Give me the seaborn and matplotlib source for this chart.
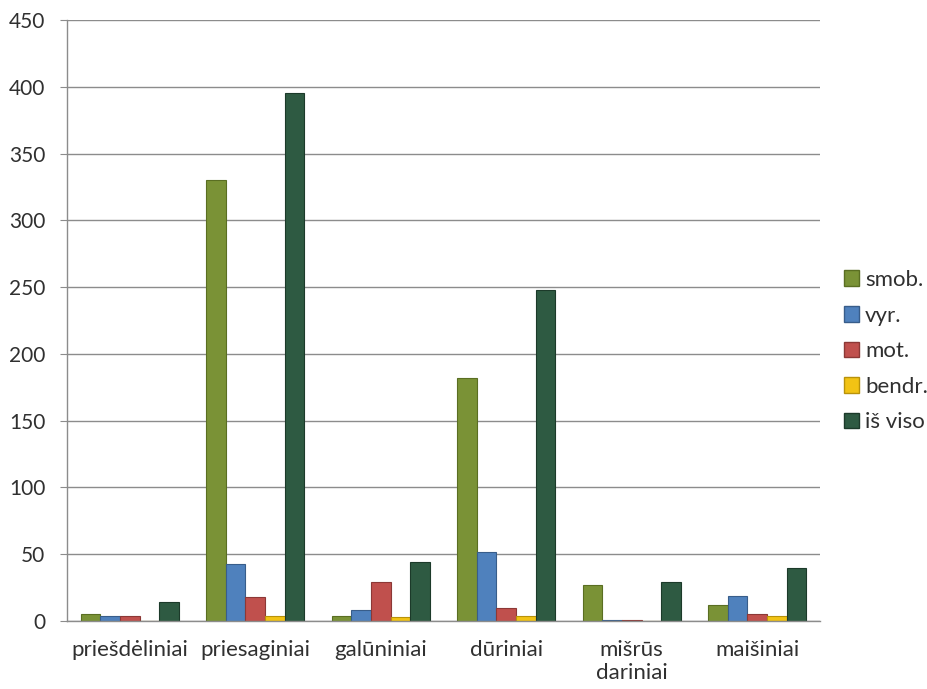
import numpy as np
import pandas as pd
import matplotlib
matplotlib.use("Agg")
import matplotlib.pyplot as plt
import seaborn as sns

categories = ["priešdėliniai", "priesaginiai", "galūniniai", "dūriniai", "mišrūs\ndariniai", "maišiniai"]
series = ["smob.", "vyr.", "mot.", "bendr.", "iš viso"]
smob = [5, 330, 4, 182, 27, 12]
vyr = [4, 43, 8, 52, 1, 19]
mot = [4, 18, 29, 10, 1, 5]
bendr = [0, 4, 3, 4, 0, 4]
is_viso = [14, 395, 44, 248, 29, 40]
yticks = [0, 50, 100, 150, 200, 250, 300, 350, 400, 450]

colors = ["#7a9236", "#4f81bd", "#c0504d", "#f2c314", "#2e5a42"]
edges = ["#5a6e22", "#385d8a", "#8c3836", "#b8920a", "#1c3a2a"]
text_color = "#303030"

rows = []
for s, vals in zip(series, [smob, vyr, mot, bendr, is_viso]):
    for c, v in zip(categories, vals):
        rows.append({"cat": c, "series": s, "value": v})
df = pd.DataFrame(rows)

sns.set_style("white")
plt.rcParams["font.family"] = ["Lato", "DejaVu Sans"]

fig = plt.figure(figsize=(9.28, 6.89), dpi=100)
ax = fig.add_axes([67/928, 1 - 621/689, (820-67)/928, (621-20)/689])

sns.barplot(data=df, x="cat", y="value", hue="series", hue_order=series,
            order=categories, palette=colors, width=0.78, ax=ax,
            saturation=1, errorbar=None, legend=True)

for cont, ec in zip(ax.containers, edges):
    for p in cont.patches:
        p.set_edgecolor(ec)
        p.set_linewidth(0.8)

ax.set_ylim(0, 450)
ax.set_yticks(yticks)
ax.set_xlim(-0.5, len(categories) - 0.5)
ax.yaxis.grid(True, color="#8c8c8c", linewidth=1)
ax.set_axisbelow(True)
ax.set_xlabel("")
ax.set_ylabel("")

for sp in ["top", "right"]:
    ax.spines[sp].set_visible(False)
for sp in ["left", "bottom"]:
    ax.spines[sp].set_color("#8c8c8c")
    ax.spines[sp].set_linewidth(1)

ax.tick_params(axis="y", labelsize=15, length=5, pad=10.5, color="#8c8c8c",
               labelcolor=text_color, left=True, direction="out")
ax.tick_params(axis="x", which="major", labelsize=16, length=0, pad=14,
               labelcolor=text_color)
ax.set_xticks(np.arange(-0.5, len(categories), 1), minor=True)
ax.tick_params(axis="x", which="minor", length=6, color="#8c8c8c", width=1)
for lbl in ax.get_xticklabels():
    lbl.set_linespacing(1.15)

leg = ax.legend(loc="center left", bbox_to_anchor=(1.005, 0.449), frameon=False,
                fontsize=16, handlelength=0.7, handleheight=0.7,
                handletextpad=0.25, labelspacing=0.7, labelcolor=text_color)
for h, ec in zip(leg.legend_handles, edges):
    h.set_edgecolor(ec)

fig.savefig("out.png", dpi=100)
